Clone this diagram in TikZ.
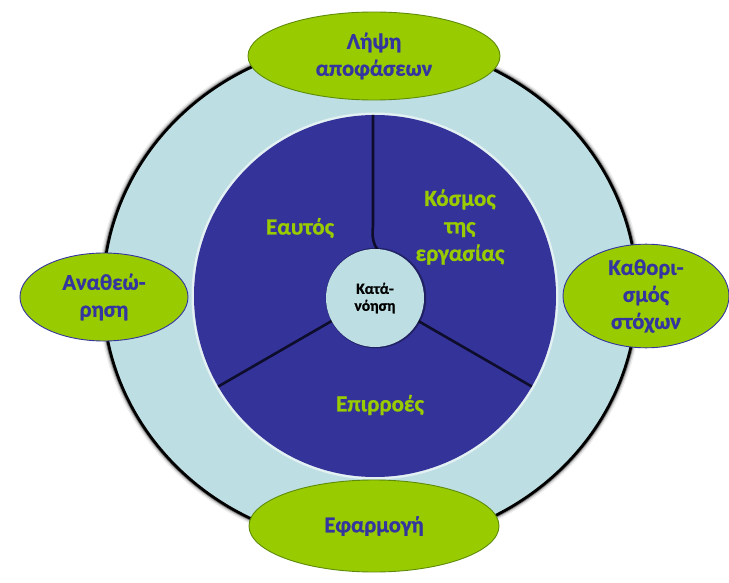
\documentclass[tikz,border=0pt]{standalone}
\usepackage{fontspec}
\setmainfont{Carlito}[BoldFont={Carlito Bold}, BoldFeatures={FakeBold=0.9}]
\usetikzlibrary{shapes.geometric,calc}
\definecolor{ringblue}{HTML}{BDDEE3}
\definecolor{coreblue}{HTML}{333399}
\definecolor{leafgreen}{HTML}{99CC00}
\definecolor{leafedge}{HTML}{5E8C0A}
\definecolor{inkblue}{HTML}{3535A0}
\definecolor{spoke}{HTML}{0E0E2C}
\tikzset{
  phase/.style={ellipse, fill=leafgreen, draw=leafedge, line width=0.9pt, inner sep=0pt,
    align=center, text=inkblue, font=\bfseries\fontsize{22.5}{27}\selectfont},
  sidephase/.style={phase, draw=inkblue},
  sector/.style={text=leafgreen, align=center, font=\bfseries\fontsize{23}{27.5}\selectfont},
  spokeline/.style={draw=spoke, line width=2.6pt},
  hub/.style={circle, fill=ringblue, minimum size=98pt, inner sep=0pt, align=center,
    text=black, font=\bfseries\fontsize{15.5}{17}\selectfont},
}
\begin{document}
\begin{tikzpicture}[x=1pt,y=-1pt]
\useasboundingbox (0,0) rectangle (729,583);
\fill[white] (0,0) rectangle (729,583);

% outer ring with a soft dark rim
\coordinate (o) at (370,293);
\foreach \w/\op in {10/0.07,7/0.15,4.5/0.35}
  \draw[black,opacity=\op,line width=\w pt] (o) ellipse [x radius=267,y radius=252];
\draw[fill=ringblue, draw=black, line width=2.8pt] (o) ellipse [x radius=267,y radius=252];

% dark core disc with a pale halo
\coordinate (c) at (375,296);
\draw[white,opacity=0.6,line width=3pt] (c) circle [radius=182];
\fill[coreblue] (c) circle [radius=181];

% three spokes dividing the disc
\draw[spokeline] (c) -- ++(150:181);
\draw[spokeline] (c) -- ++(30:181);
\draw[spokeline] (373,115) -- (373,226) .. controls (371,242) and (376,250) .. (383,254);

% hub
\draw[spoke,opacity=0.5,line width=2.5pt] (376,298) circle [radius=49];
\node[hub] (hub) at (375,298) {Κατά-\\νόηση};

% sector labels
\node[sector] (self) at (300,228) {Εαυτός};
\node[sector] (work) at (460,227) {Κόσμος\\της\\εργασίας};
\node[sector] (infl) at (380,405) {Επιρροές};

% four phases around the ring
\node[phase, minimum width=252pt, minimum height=88pt] (decide) at (374,56) {Λήψη\\αποφάσεων};
\node[sidephase, minimum width=168pt, minimum height=88pt] (review) at (104,297) {Αναθεώ-\\ρηση};
\node[sidephase, minimum width=166pt, minimum height=94pt] (goals) at (646,296) {Καθορι-\\σμός\\στόχων};
\node[phase, minimum width=250pt, minimum height=92pt] (apply) at (374,526) {Εφαρμογή};
\end{tikzpicture}
\end{document}
